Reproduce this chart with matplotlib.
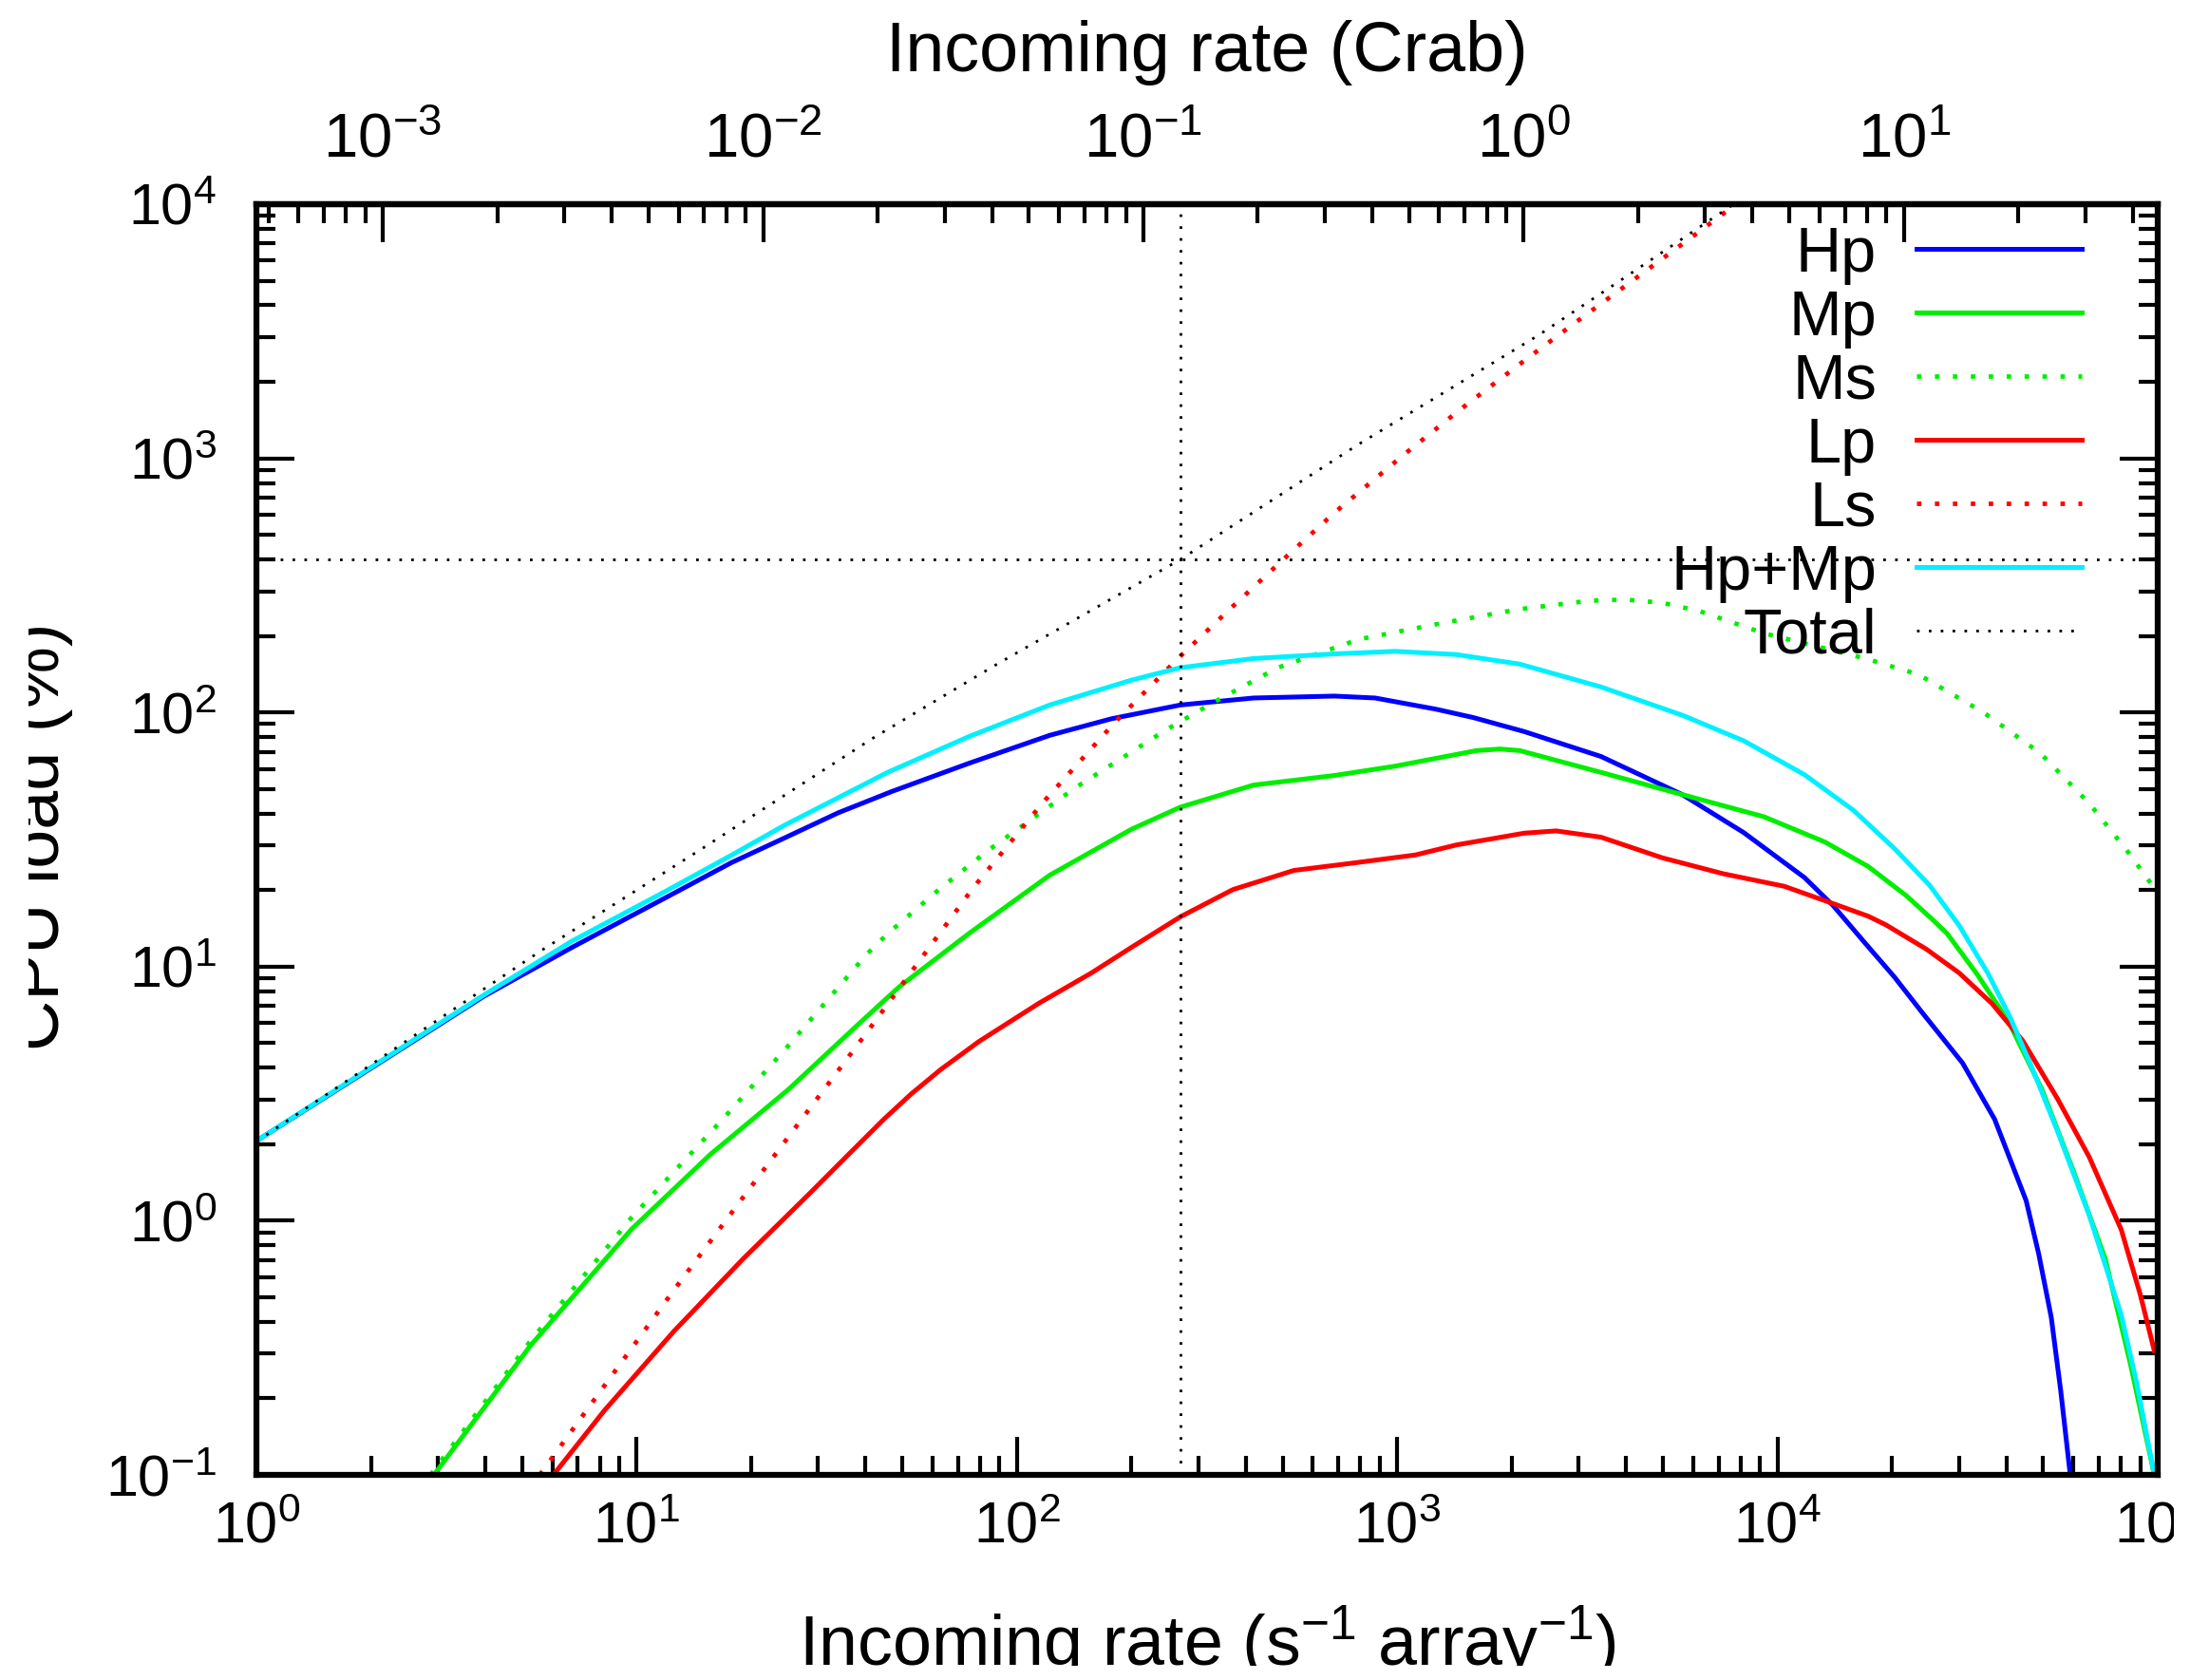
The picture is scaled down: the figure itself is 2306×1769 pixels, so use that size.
import matplotlib
matplotlib.use('Agg')
import matplotlib.pyplot as plt
from matplotlib.patches import Rectangle

plt.rcParams['font.family'] = ['Liberation Sans', 'DejaVu Sans']
plt.rcParams['mathtext.fontset'] = 'custom'
plt.rcParams['mathtext.rm'] = 'Liberation Sans'
plt.rcParams['mathtext.it'] = 'Liberation Sans:italic'
plt.rcParams['mathtext.bf'] = 'Liberation Sans:bold'
plt.rcParams['axes.unicode_minus'] = False

# incoming rate (s^-1 array^-1) and CPU load (%)
hp_rate = [1, 2.0, 3.98, 6.76, 11.7, 17.8, 24.4, 33.9, 47.1, 74.8, 122, 177, 269, 419, 684, 875,
           1265, 1585, 2158, 3436, 5623, 8147, 11780, 14000, 17060, 20280, 23990, 30690, 37240,
           45080, 48640, 52480, 55590, 58880]
hp_load = [2.06, 3.98, 7.67, 11.9, 18.4, 25.7, 32.0, 40.3, 49.0, 63.1, 81.3, 94.4, 107, 114, 116, 114,
           103, 95.5, 84.1, 67.1, 47.5, 33.7, 22.4, 17.4, 12.3, 9.12, 6.61, 4.17, 2.51,
           1.20, 0.741, 0.417, 0.214, 0.1]

mp_rate = [2.93, 5.26, 9.70, 15.6, 25.1, 38.1, 49.0, 74.8, 122, 200, 269, 419, 684, 989, 1618, 1862,
           2099, 3436, 5623, 9204, 13340, 17300, 21830, 25350, 27930, 33500, 38460, 40930, 49550,
           60120, 72780, 84920, 97950]
mp_load = [0.1, 0.323, 0.927, 1.82, 3.29, 5.89, 8.32, 13.5, 22.9, 34.7, 42.4, 51.8, 56.5, 61.5, 70.8, 71.8,
           70.8, 58.1, 47.5, 38.9, 30.9, 24.8, 19.0, 15.5, 13.5, 9.33, 6.84, 5.89, 3.30,
           1.56, 0.708, 0.270, 0.1]

ms_rate = [2.87, 5.26, 9.70, 17.0, 25.1, 40.3, 45.8, 63.1, 83.6, 142, 247, 327, 485, 793, 1361, 2099,
           3192, 3981, 4977, 6209, 9204, 17060, 23500, 34830, 49200, 66220, 84720, 100000]
ms_load = [0.1, 0.337, 1.03, 2.55, 4.90, 11.2, 13.5, 20.4, 28.5, 50.4, 85.5, 109, 150, 194, 227, 255,
           275, 278, 270, 251, 205, 163, 141, 100, 69.0, 43.7, 27.5, 19.5]

lp_rate = [6.04, 8.22, 12.5, 19.0, 28.8, 35.5, 44.7, 52.8, 63.1, 79.4, 114, 157, 200, 269, 370, 535,
           773, 1117, 1429, 2158, 2618, 3436, 4977, 7194, 10420, 14000, 17300, 19280, 24660, 30060,
           36640, 44160, 54580, 66070, 80170, 89950, 97950]
lp_load = [0.1, 0.179, 0.366, 0.705, 1.30, 1.78, 2.51, 3.16, 3.94, 5.07, 7.16, 9.44, 11.9, 15.7, 20.1, 23.9,
           25.6, 27.5, 30.1, 33.5, 34.2, 32.3, 26.8, 23.2, 20.7, 17.7, 15.8, 14.6, 11.7, 9.44,
           7.16, 5.11, 3.01, 1.78, 0.923, 0.513, 0.308]

ls_rate = [5.56, 8.22, 12.5, 19.0, 28.8, 39.8, 52.8, 76.7, 117, 182, 265, 366, 499, 684, 1045, 1459,
           2075, 2897, 4121, 5861, 7780]
ls_load = [0.1, 0.224, 0.531, 1.23, 2.82, 5.37, 9.55, 20.4, 44.2, 92.3, 163, 258, 397, 611, 1038, 1549,
           2317, 3365, 4955, 7295, 10000]

hpmp_rate = [1, 2.0, 3.98, 6.76, 11.7, 17.8, 24.4, 33.9, 45.8, 74.8, 122, 200, 269, 419, 684, 989, 1429,
             2099, 3436, 5623, 8147, 11780, 15850, 20280, 25120, 30060, 35730, 40930, 46770, 54580,
             66070, 80170, 88100, 97950]
hpmp_load = [2.06, 4.01, 7.76, 12.6, 19.5, 27.5, 35.9, 46.2, 58.2, 80.4, 107, 134, 150, 163, 170, 174, 169,
             155, 126, 97.5, 77.4, 56.9, 41.2, 29.2, 20.9, 14.5, 9.44, 6.31, 3.98, 2.24,
             1.05, 0.427, 0.229, 0.1]

total_rate = [1, 5.58, 14.9, 41.9, 88.7, 269, 787, 2344, 3855, 6653, 7674]
total_load = [2.05, 11.5, 29.2, 79.4, 155, 400, 1130, 3040, 5000, 8670, 10000]

crab_rate = 2150.0          # 1 Crab in s^-1 array^-1
ref_crab = 0.125
ref_load = 400

W, H = 2306, 1769
fig = plt.figure(figsize=(W / 100, H / 100), dpi=100)
ax = fig.add_axes([270 / W, 1 - 1553 / H, 2002 / W, 1338 / H])

dot = (0, (1, 3.0))
fine_dot = (0, (1, 3.5))
series = [
    ('Hp', hp_rate, hp_load, '#0000ff', '-', 3.6),
    ('Mp', mp_rate, mp_load, '#00ee00', '-', 3.6),
    ('Ms', ms_rate, ms_load, '#00ee00', dot, 3.4),
    ('Lp', lp_rate, lp_load, '#ff0000', '-', 3.6),
    ('Ls', ls_rate, ls_load, '#ff0000', dot, 3.4),
    ('Hp+Mp', hpmp_rate, hpmp_load, '#00f0ff', '-', 3.6),
    ('Total', total_rate, total_load, '#000000', fine_dot, 2.0),
]

for name, x, y, c, ls, lw in series:
    ax.plot(x, y, color=c, ls=ls, lw=lw)

ax.axhline(ref_load, color='black', ls=fine_dot, lw=2.0, zorder=3)
ax.axvline(ref_crab * crab_rate, color='black', ls=fine_dot, lw=2.0, zorder=3)

ax.set_xscale('log')
ax.set_yscale('log')
ax.set_xlim(1, 1e5)
ax.set_ylim(0.1, 1e4)

# key: labels right aligned, sample to the right
for i, (name, x, y, c, ls, lw) in enumerate(series):
    yy = 0.9649 - i * 0.05007
    ax.plot([0.8731, 0.9600], [yy, yy], transform=ax.transAxes, color=c, ls=ls, lw=lw)
    ax.text(0.8521, yy - 0.0179, name, transform=ax.transAxes, ha='right', va='baseline', fontsize=48)

for s in ax.spines.values():
    s.set_linewidth(4.5)
ax.tick_params(which='both', direction='in', top=False, right=True, width=3, labelsize=44)
ax.tick_params(which='major', length=28.8)
ax.tick_params(which='minor', length=14.4)
ax.tick_params(axis='x', pad=20)
ax.tick_params(axis='y', pad=30)

ax.set_xlabel('Incoming rate (s$^{-1}$ array$^{-1}$)', fontsize=53)
ax.xaxis.set_label_coords(1271 / W, 1 - 1754 / H, transform=fig.transFigure)
ax.xaxis.label.set_va('baseline')
ax.set_ylabel('CPU load (%)', fontsize=53)
ax.yaxis.set_label_coords(62 / W, 1 - 881 / H, transform=fig.transFigure)
ax.yaxis.label.set_va('baseline')

crab = ax.secondary_xaxis('top', functions=(lambda r: r / crab_rate, lambda c: c * crab_rate))
crab.spines['top'].set_linewidth(4.5)
crab.tick_params(which='both', direction='in', width=3, labelsize=47, pad=26)
crab.tick_params(which='major', length=28.8)
crab.tick_params(which='minor', length=14.4)
crab.set_xlabel('Incoming rate (Crab)', fontsize=53)
crab.xaxis.set_label_coords(1271 / W, 1 - 75 / H, transform=fig.transFigure)
crab.xaxis.label.set_va('baseline')

# the source picture was cropped at left, bottom and right
for r in [(0, 0, 30 / W, 1), (0, 0, 1, 15 / H), (2289 / W, 0, 1, 1)]:
    fig.add_artist(Rectangle(r[:2], r[2], r[3], transform=fig.transFigure,
                             facecolor='white', edgecolor='none', zorder=10))

fig.savefig('out.png', dpi=100)
